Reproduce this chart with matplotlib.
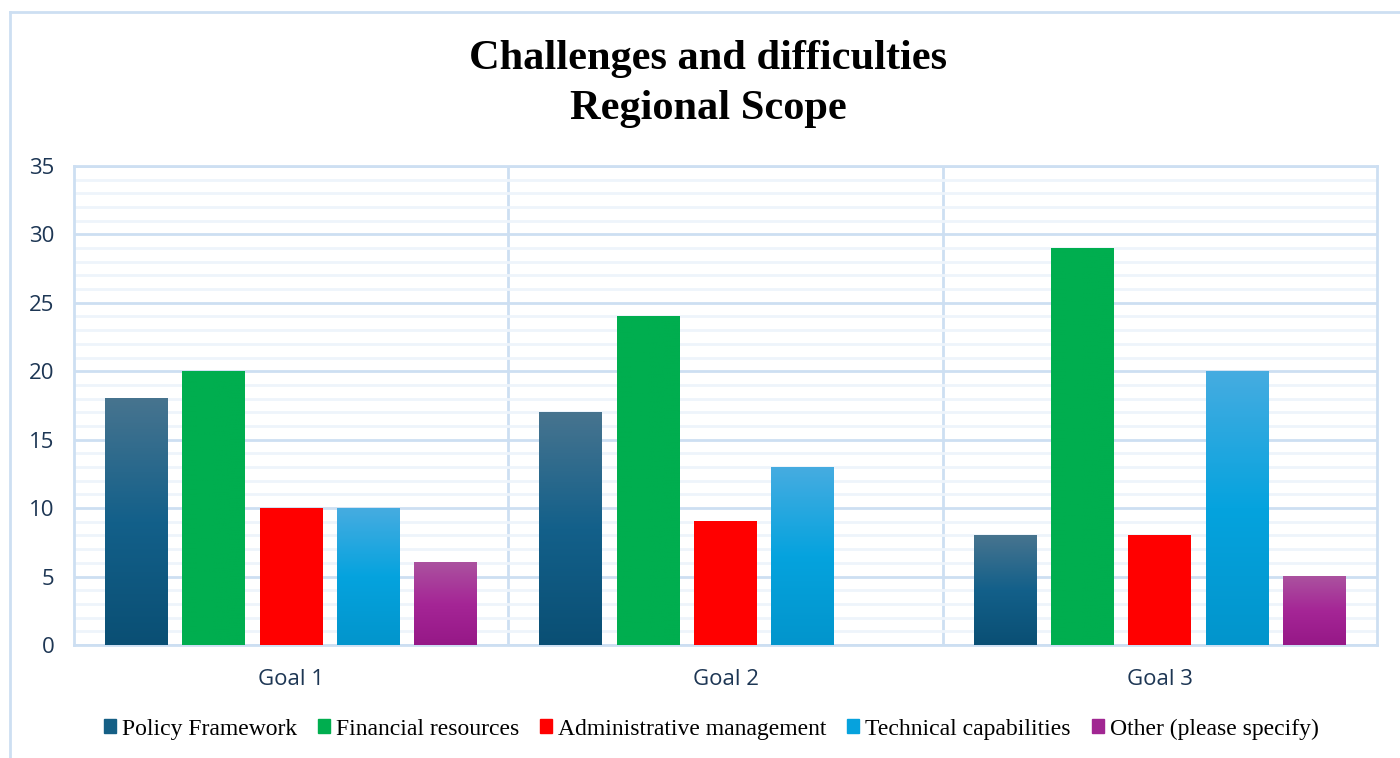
import numpy as np
import matplotlib.pyplot as plt
from matplotlib.colors import LinearSegmentedColormap
from matplotlib.patches import Rectangle
from matplotlib.lines import Line2D

goals = ['Goal 1', 'Goal 2', 'Goal 3']
series = ['Policy Framework', 'Financial resources', 'Administrative management',
          'Technical capabilities', 'Other (please specify)']
policy = [18, 17, 8]
financial = [20, 24, 29]
admin = [10, 9, 8]
technical = [10, 13, 20]
other = [6, 0, 5]
values = [policy, financial, admin, technical, other]

# bottom, middle, top colours of each bar gradient
grads = [
    ['#0a4f74', '#13608a', '#47748f'],
    ['#00ae4f', '#00ae4f', '#00ae4f'],
    ['#ff0000', '#ff0000', '#ff0000'],
    ['#0295cc', '#05a3de', '#46ace1'],
    ['#961887', '#a52696', '#ab529f'],
]
legend_cols = ['#155f85', '#00ae4f', '#ff0000', '#06a2dd', '#a12692']

grid_major = '#cddff2'
grid_minor = '#eef4fb'
tick_col = '#1d3654'

fig = plt.figure(figsize=(14, 7.58), dpi=100)
ax = fig.add_axes([0.0529, 0.1491, 0.9307, 0.632])

# outer chart border (top and left visible)
fig.add_artist(Line2D([10/1400, 1], [1 - 12/758, 1 - 12/758], color=grid_major, lw=2))
fig.add_artist(Line2D([10/1400, 10/1400], [0, 1 - 12/758], color=grid_major, lw=2))

ax.set_yticks(range(0, 36, 5))
ax.set_yticks(range(0, 36, 1), minor=True)
ax.grid(which='minor', axis='y', color=grid_minor, lw=2, zorder=0)
ax.grid(which='major', axis='y', color=grid_major, lw=2, zorder=0)
for xv in [1, 2]:
    ax.axvline(xv, color=grid_major, lw=2, zorder=0)
for s in ax.spines.values():
    s.set_color(grid_major)
    s.set_linewidth(2)

bw = 0.145
step = 0.178
grad = np.linspace(0, 1, 256).reshape(-1, 1)
for i, vals in enumerate(values):
    cmap = LinearSegmentedColormap.from_list('g%d' % i, grads[i])
    for g, v in enumerate(vals):
        if v <= 0:
            continue
        x0 = g + 0.5 + (i - 2) * step - bw / 2
        ax.imshow(grad, extent=[x0, x0 + bw, 0, v], origin='lower', cmap=cmap,
                  aspect='auto', zorder=3, interpolation='bilinear')
ax.set_aspect('auto')
ax.set_xlim(0, 3)
ax.set_ylim(0, 35)

ax.set_xticks([0.5, 1.5, 2.5])
ax.set_xticklabels(goals)
ax.tick_params(axis='both', which='both', length=0, labelsize=16, labelcolor=tick_col)
ax.tick_params(axis='x', pad=17)
ax.tick_params(axis='y', pad=14)
for lab in ax.get_xticklabels() + ax.get_yticklabels():
    lab.set_family('Open Sans')

fig.text(0.506, 1 - 59/758, 'Challenges and difficulties', ha='center', va='center',
         fontsize=30.5, fontweight='bold', family='Liberation Serif')
fig.text(0.506, 1 - 109/758, 'Regional Scope', ha='center', va='center',
         fontsize=30.5, fontweight='bold', family='Liberation Serif')

handles = [Rectangle((0, 0), 1, 1, color=c) for c in legend_cols]
fig.legend(handles, series, loc='center', bbox_to_anchor=(0.508, 1 - 729/758), ncol=5,
           frameon=False, prop={'family': 'Liberation Serif', 'size': 17},
           handlelength=0.5, handleheight=0.5, handletextpad=0.25, columnspacing=0.9)

fig.savefig('out.png', dpi=100, facecolor='white')
